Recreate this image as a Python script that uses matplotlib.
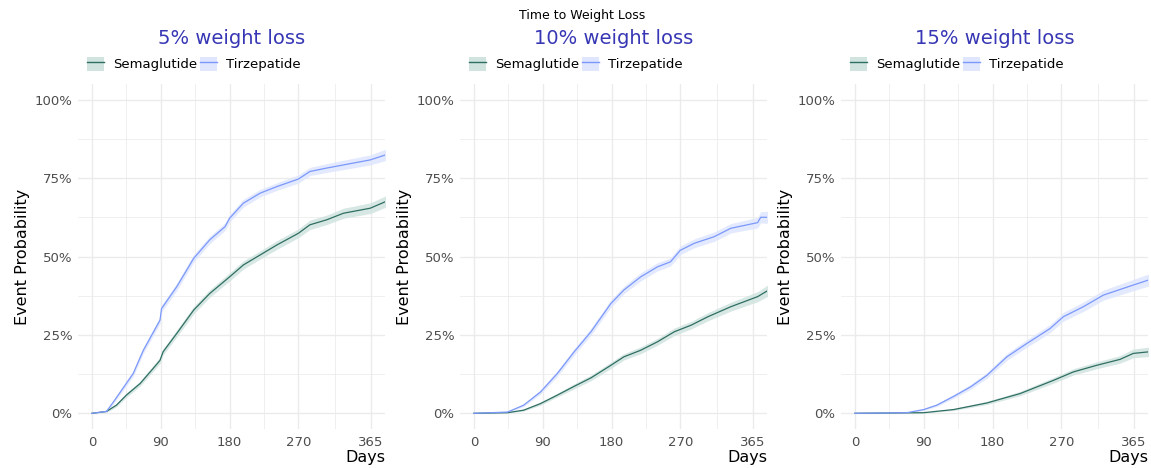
import matplotlib
matplotlib.use("Agg")

import matplotlib.pyplot as plt
import numpy as np
from matplotlib.lines import Line2D
from matplotlib.patches import Patch
from matplotlib.ticker import FixedLocator, FuncFormatter

# ── data (days, cumulative event probability in %) ──
# 5% weight loss
T5_DAYS = [0, 19, 28, 54, 67, 89, 91, 111, 133, 154, 174, 180, 198, 220, 242,
           270, 285, 307, 329, 364, 384]
T5_PROB = [0, 0.6, 3.6, 12.7, 20, 29.7, 33.4, 40.4, 49.4, 55.3, 59.5, 62.2,
           67, 70.2, 72.3, 74.7, 77.1, 78.2, 79.2, 80.8, 82.4]
T5_HW = [0, 0.3, 0.6, 0.9, 1.0, 1.1, 1.1, 1.2, 1.2, 1.2, 1.2, 1.2, 1.2, 1.2,
         1.2, 1.3, 1.3, 1.4, 1.5, 1.6, 1.8]
S5_DAYS = [0, 19, 32, 45, 63, 80, 89, 93, 111, 133, 154, 180, 198, 220, 242,
           270, 285, 307, 329, 364, 384]
S5_PROB = [0, 0.6, 2.6, 5.8, 9.5, 14.3, 16.9, 19.6, 25.5, 32.9, 38.2, 43.5,
           47.3, 50.5, 53.7, 57.4, 60.1, 61.7, 63.8, 65.4, 67.5]
S5_HW = [0, 0.3, 0.5, 0.7, 0.8, 0.9, 1.0, 1.0, 1.1, 1.2, 1.2, 1.3, 1.3, 1.3,
         1.4, 1.4, 1.5, 1.5, 1.6, 1.7, 1.8]

# 10% weight loss
T10_DAYS = [0, 44, 65, 87, 109, 131, 153, 179, 196, 218, 240, 257, 270, 288,
            314, 336, 371, 375, 384]
T10_PROB = [0, 0.4, 2.6, 6.8, 12.7, 19.6, 26, 35, 39.3, 43.5, 46.7, 48.3, 52,
            54.2, 56.3, 59, 60.8, 62.5, 62.5]
T10_HW = [0, 0.2, 0.4, 0.7, 0.9, 1.0, 1.1, 1.2, 1.2, 1.3, 1.3, 1.3, 1.4, 1.4,
          1.5, 1.5, 1.7, 1.8, 1.9]
S10_DAYS = [0, 44, 65, 87, 109, 131, 153, 179, 196, 218, 240, 262, 284, 306,
            336, 371, 384]
S10_PROB = [0, 0.2, 1, 3.1, 5.8, 8.6, 11.3, 15.3, 18, 20.1, 22.8, 26, 28.1,
            30.8, 34, 37.2, 39.1]
S10_HW = [0, 0.1, 0.3, 0.5, 0.6, 0.8, 0.9, 1.0, 1.0, 1.1, 1.1, 1.2, 1.2, 1.3,
          1.4, 1.6, 1.8]

# 15% weight loss
T15_DAYS = [0, 68, 90, 107, 129, 151, 172.5, 198.6, 225, 255, 272.6, 298.8,
            325, 364, 384]
T15_PROB = [0, 0.2, 1.2, 2.6, 5.4, 8.4, 12.1, 18, 22.3, 27, 30.8, 34, 37.7,
            40.9, 42.5]
T15_HW = [0, 0.1, 0.3, 0.4, 0.6, 0.8, 0.9, 1.1, 1.2, 1.3, 1.4, 1.5, 1.6,
          1.8, 1.9]
S15_DAYS = [0, 90, 129, 172.5, 216, 259.5, 285.6, 316, 346.7, 364, 384]
S15_PROB = [0, 0.2, 1.2, 3.3, 6.3, 10.5, 13.2, 15.3, 17.2, 19.1, 19.6]
S15_HW = [0, 0.1, 0.3, 0.5, 0.7, 0.9, 1.0, 1.1, 1.2, 1.4, 1.5]

PANELS = [
    ("5% weight loss",  (S5_DAYS, S5_PROB, S5_HW),   (T5_DAYS, T5_PROB, T5_HW)),
    ("10% weight loss", (S10_DAYS, S10_PROB, S10_HW), (T10_DAYS, T10_PROB, T10_HW)),
    ("15% weight loss", (S15_DAYS, S15_PROB, S15_HW), (T15_DAYS, T15_PROB, T15_HW)),
]
GROUPS = ["Semaglutide", "Tirzepatide"]

# ── style ────────────────────────────────────────────────────────────────────
COL_LINE = {"Semaglutide": "#2f6e62", "Tirzepatide": "#7b98fa"}
COL_FILL = {"Semaglutide": "#d0e3df", "Tirzepatide": "#dfe6fe"}
TITLE_COL = "#3737b5"
GRID_COL = "#ebebeb"
TICK_COL = "#4d4d4d"

plt.rcParams.update({
    "font.family": "DejaVu Sans",
    "font.size": 9,
})

W, H = 1151, 468
fig = plt.figure(figsize=(W / 100, H / 100), dpi=100)

# axes boxes in pixels: (left, top, right, bottom)
BOXES = [(78, 84, 385, 429), (460, 84, 767, 429), (841, 84, 1148, 429)]

XMAX = 365
XPAD = 0.05 * XMAX

for (title, sema, tirz), (l, t, r, b) in zip(PANELS, BOXES):
    ax = fig.add_axes([l / W, (H - b) / H, (r - l) / W, (b - t) / H])
    for spine in ax.spines.values():
        spine.set_visible(False)

    ax.set_xlim(-XPAD, XMAX + XPAD)
    ax.set_ylim(-0.05, 1.05)

    ax.xaxis.set_major_locator(FixedLocator([0, 90, 180, 270, 365]))
    ax.xaxis.set_minor_locator(FixedLocator([45, 135, 225, 317.5]))
    ax.yaxis.set_major_locator(FixedLocator([0, 0.25, 0.5, 0.75, 1.0]))
    ax.yaxis.set_minor_locator(FixedLocator([0.125, 0.375, 0.625, 0.875]))
    ax.yaxis.set_major_formatter(FuncFormatter(lambda v, _: f"{v * 100:.0f}%"))

    ax.grid(which="major", color=GRID_COL, lw=1.0)
    ax.grid(which="minor", color=GRID_COL, lw=0.55)
    ax.set_axisbelow(True)
    ax.tick_params(which="both", length=0, colors=TICK_COL, labelsize=9.5)
    ax.tick_params(axis="x", pad=5)
    ax.tick_params(axis="y", pad=4)

    for name, (d, p, hw) in zip(GROUPS, [sema, tirz]):
        d = np.asarray(d, float)
        p = np.asarray(p, float) / 100
        hw = np.asarray(hw, float) / 100
        ax.fill_between(d, np.clip(p - hw, 0, None), p + hw,
                        color=COL_FILL[name], alpha=0.85, lw=0, zorder=2)
        ax.plot(d, p, color=COL_LINE[name], lw=0.9, zorder=3)

    ax.set_ylabel("Event Probability", fontsize=11.5, labelpad=3)
    ax.set_xlabel("Days", fontsize=11.5, loc="right", labelpad=1)

    ax.set_title(title, color=TITLE_COL, fontsize=14, pad=29)

    handles = [(Patch(fc=COL_FILL[g], ec="none"),
                Line2D([], [], color=COL_LINE[g], lw=1.0)) for g in GROUPS]
    ax.legend(handles, GROUPS, loc="center left",
              bbox_to_anchor=(0.03, 1.058), ncol=2, frameon=False,
              fontsize=9.5, handlelength=1.3, handleheight=1.3,
              handletextpad=0.7, columnspacing=0.15, borderaxespad=0,
              borderpad=0)

fig.suptitle("Time to Weight Loss", fontsize=9, x=582 / W, y=1 - 16 / H,
             va="center")

fig.savefig("out.png", dpi=100)
